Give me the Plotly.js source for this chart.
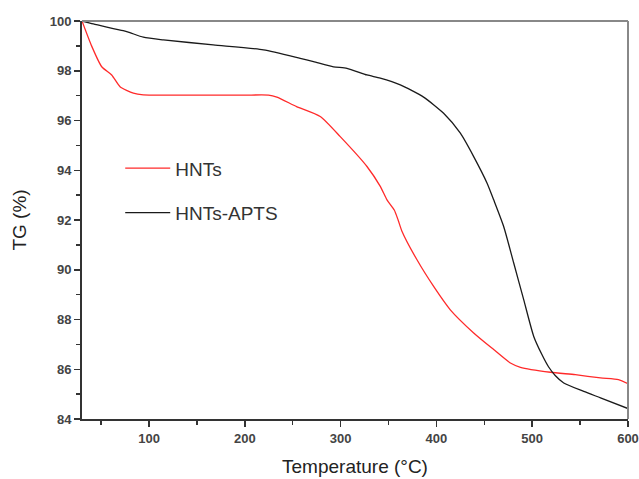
<!DOCTYPE html>
<html><head><meta charset="utf-8">
<script src="https://cdn.plot.ly/plotly-3.0.1.min.js"></script>
<style>html,body{margin:0;padding:0;background:#fff}#c{width:639px;height:479px}</style>
</head><body><div id="c"></div>
<script>
const hntsT = [30, 40, 50.6, 61, 69.7, 83.6, 94, 120, 160, 200, 224.7, 233.4, 254, 278.7, 299.6, 327.5, 341.4, 348.4, 356, 360, 364, 379.7, 397.1, 414.5, 438.9, 459.8, 477.2, 487.7, 519, 545, 571.3, 590, 600];
const hntsY = [100, 99.0, 98.16, 97.83, 97.36, 97.1, 97.03, 97.02, 97.02, 97.02, 97.02, 96.94, 96.56, 96.16, 95.35, 94.15, 93.35, 92.81, 92.4, 92.0, 91.55, 90.4, 89.33, 88.39, 87.46, 86.79, 86.25, 86.08, 85.88, 85.78, 85.65, 85.58, 85.42];
const aptsT = [30, 41.8, 73, 80, 94, 115, 167, 219.5, 257.8, 271.7, 292.6, 306.6, 327.5, 341.4, 362.3, 386.6, 407.5, 425, 438.9, 452.9, 459.8, 470.2, 480.7, 491.1, 501.6, 510, 517, 524, 532.9, 553.8, 571.3, 600];
const aptsY = [100, 99.88, 99.61, 99.53, 99.35, 99.24, 99.04, 98.84, 98.5, 98.37, 98.16, 98.1, 97.83, 97.7, 97.43, 96.94, 96.29, 95.49, 94.55, 93.48, 92.81, 91.74, 90.27, 88.8, 87.32, 86.6, 86.1, 85.75, 85.45, 85.11, 84.85, 84.42];
const names = ['HNTs', 'HNTs-APTS'];
const colors = ['#ff2a2a', '#1a1a1a'];

const traces = [
  {x: hntsT, y: hntsY, name: names[0], type: 'scatter', mode: 'lines', line: {color: colors[0], width: 1.3, shape: 'spline', smoothing: 0.6}, legend: 'legend', showlegend: true},
  {x: aptsT, y: aptsY, name: names[1], type: 'scatter', mode: 'lines', line: {color: colors[1], width: 1.3, shape: 'spline', smoothing: 0.6}, legend: 'legend2', showlegend: true}
];
const tickFont = {family: 'Liberation Sans, Arial, sans-serif', size: 13, color: '#444', weight: 'bold'};
const legFont = {family: 'Liberation Sans, Arial, sans-serif', size: 19, color: '#333'};
const titleFont = {family: 'Liberation Sans, Arial, sans-serif', size: 19, color: '#222'};
const layout = {
  width: 639, height: 479,
  showlegend: true,
  margin: {l: 82, r: 11, t: 21, b: 60},
  paper_bgcolor: '#fff', plot_bgcolor: '#fff',
  xaxis: {range: [30, 600], tickvals: [100, 200, 300, 400, 500, 600], ticks: 'outside', ticklen: 6, tickwidth: 1.5, tickcolor: '#333',
    showline: true, linecolor: '#333', linewidth: 2, showgrid: false, zeroline: false, tickfont: tickFont,
    minor: {dtick: 50, tick0: 0, ticks: 'outside', ticklen: 4, tickcolor: '#333', showgrid: false},
    title: {text: 'Temperature (°C)', font: titleFont, standoff: 15}},
  yaxis: {range: [84, 100], dtick: 2, ticks: 'outside', ticklen: 6, tickwidth: 1.5, tickcolor: '#333',
    showline: true, linecolor: '#333', linewidth: 2, showgrid: false, zeroline: false, tickfont: tickFont,
    minor: {dtick: 1, ticks: 'outside', ticklen: 4, tickcolor: '#333', showgrid: false},
    title: {text: 'TG (%)', font: titleFont, standoff: 18}},
  legend: {x: 0.07, y: 0.63, xanchor: 'left', yanchor: 'middle', bgcolor: 'rgba(0,0,0,0)', font: legFont, itemwidth: 45},
  legend2: {x: 0.07, y: 0.518, xanchor: 'left', yanchor: 'middle', bgcolor: 'rgba(0,0,0,0)', font: legFont, itemwidth: 45},
  shapes: [
    {type: 'line', xref: 'paper', yref: 'paper', x0: 0, x1: 1, y0: 1, y1: 1, line: {color: '#888', width: 2}},
    {type: 'line', xref: 'paper', yref: 'paper', x0: 1, x1: 1, y0: 0, y1: 1, line: {color: '#888', width: 2}}
  ]
};
Plotly.newPlot('c', traces, layout, {displayModeBar: false, staticPlot: true});
</script></body></html>
